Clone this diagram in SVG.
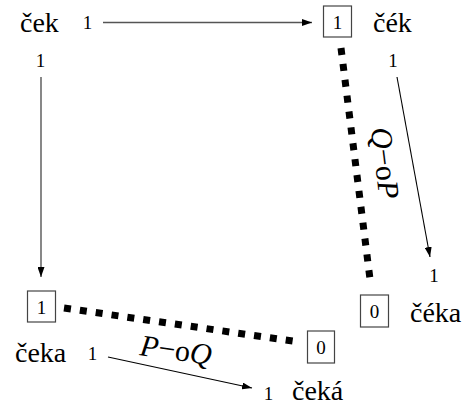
<svg xmlns="http://www.w3.org/2000/svg" width="462" height="408" viewBox="0 0 462 408" font-family="Times New Roman">
<defs>
<marker id="ah" markerWidth="10" markerHeight="7" refX="10" refY="3.5" orient="auto" markerUnits="userSpaceOnUse">
<path d="M0,0 L10,3.5 L0,7 z" fill="#000"/>
</marker>
</defs>
<rect width="462" height="408" fill="#fff"/>
<g id="connectors" fill="none">
<line x1="103" y1="22.5" x2="312" y2="22.5" stroke="#555" stroke-width="1.4" marker-end="url(#ah)"/>
<line x1="41" y1="77" x2="41" y2="277" stroke="#555" stroke-width="1.4" marker-end="url(#ah)"/>
<line x1="397" y1="77" x2="430" y2="257" stroke="#000" stroke-width="1.1" marker-end="url(#ah)"/>
<line x1="108" y1="357" x2="252" y2="388" stroke="#000" stroke-width="1.1" marker-end="url(#ah)"/>
<line x1="341" y1="48" x2="370" y2="279" stroke="#000" stroke-width="7" stroke-dasharray="7 9"/>
<line x1="64" y1="308" x2="299" y2="342" stroke="#000" stroke-width="7" stroke-dasharray="7 9"/>
<text transform="translate(385,163) rotate(83)" x="0" y="10" fill="#000" font-family="Times New Roman" font-size="30" text-anchor="middle"><tspan font-style="italic">Q</tspan>−o<tspan font-style="italic">P</tspan></text>
<text transform="translate(176,350) rotate(8)" x="0" y="10" fill="#000" font-family="Times New Roman" font-size="30" text-anchor="middle"><tspan font-style="italic">P</tspan>−o<tspan font-style="italic">Q</tspan></text>
</g>
<g id="n-cek">
<text x="20" y="32" font-family="Times New Roman" font-size="28">ček</text>
<text x="87.5" y="29" font-family="Times New Roman" font-size="19" text-anchor="middle">1</text>
<text x="40.5" y="67" font-family="Times New Roman" font-size="19" text-anchor="middle">1</text>
</g>
<g id="n-cek2">
<rect x="323.5" y="6" width="28" height="31" fill="#fff" stroke="#444" stroke-width="1.2"/>
<text x="337.5" y="29" font-family="Times New Roman" font-size="19" text-anchor="middle">1</text>
<text x="373" y="32" font-family="Times New Roman" font-size="28">čék</text>
<text x="393" y="67" font-family="Times New Roman" font-size="19" text-anchor="middle">1</text>
</g>
<g id="n-ceka">
<rect x="27.5" y="291" width="28" height="31" fill="#fff" stroke="#444" stroke-width="1.2"/>
<text x="41.5" y="314" font-family="Times New Roman" font-size="19" text-anchor="middle">1</text>
<text x="15" y="362" font-family="Times New Roman" font-size="28">čeka</text>
<text x="92.5" y="360" font-family="Times New Roman" font-size="19" text-anchor="middle">1</text>
</g>
<g id="n-ceka2">
<rect x="307.5" y="331" width="27" height="32" fill="#fff" stroke="#444" stroke-width="1.2"/>
<text x="321" y="354" font-family="Times New Roman" font-size="19" text-anchor="middle">0</text>
<text x="268.5" y="400" font-family="Times New Roman" font-size="19" text-anchor="middle">1</text>
<text x="292" y="400" font-family="Times New Roman" font-size="28">čeká</text>
</g>
<g id="n-ceka3">
<rect x="360.5" y="295" width="28" height="32" fill="#fff" stroke="#444" stroke-width="1.2"/>
<text x="374.5" y="318" font-family="Times New Roman" font-size="19" text-anchor="middle">0</text>
<text x="410" y="322" font-family="Times New Roman" font-size="28">čéka</text>
<text x="434" y="282" font-family="Times New Roman" font-size="19" text-anchor="middle">1</text>
</g>
</svg>
